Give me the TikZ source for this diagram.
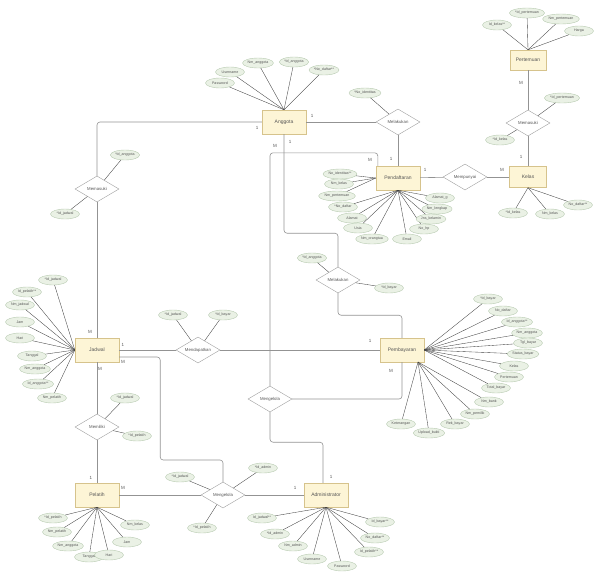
\documentclass[tikz,border=0pt]{standalone}
\usepackage{fontspec}
\setmainfont{Liberation Sans}
\usetikzlibrary{shapes.geometric}
\definecolor{entfill}{HTML}{FDF5D6}
\definecolor{entline}{HTML}{D6C38C}
\definecolor{attfill}{HTML}{EAF1E5}
\definecolor{attline}{HTML}{B7CAB0}
\definecolor{txt}{HTML}{555555}
\tikzset{
  ent/.style={draw=entline, fill=entfill, minimum width=44pt, minimum height=24pt, inner sep=1pt, font=\fontsize{5}{6}\selectfont, text=txt},
  rel/.style={diamond, draw=gray!75, fill=white, aspect=1.7, minimum width=44pt, minimum height=26pt, inner sep=0pt, font=\fontsize{4.3}{5}\selectfont, text=txt},
  attr/.style={ellipse, draw=attline, fill=attfill, minimum width=29pt, minimum height=10pt, inner sep=0.6pt, font=\fontsize{3.6}{4}\selectfont, text=txt},
  link/.style={draw=gray!85, line width=0.6pt, rounded corners=3pt},
  alink/.style={draw=gray!50!black, line width=0.35pt},
  card/.style={font=\fontsize{4.5}{5}\selectfont, text=txt},
}
\newcommand{\attrs}[3]{%
  \foreach \n/\x/\y/\lbl in {#3} {
    \node[attr] (#1\n) at (\x,\y) {\lbl};
    \draw[alink] (#1\n) -- (#2);
  }%
}

\begin{document}
\begin{tikzpicture}[x=1pt,y=-1pt]
  \useasboundingbox (0,0) rectangle (595,571);

  % entitas
  \node[ent] (anggota) at (284,122) {Anggota};
  \node[ent, minimum width=36pt, minimum height=20pt] (pertemuan) at (528,60) {Pertemuan};
  \node[ent, minimum width=37pt, minimum height=21pt] (kelas) at (528,177) {Kelas};
  \node[ent] (daftar) at (398,178) {Pendaftaran};
  \node[ent] (jadwal) at (97,350) {Jadwal};
  \node[ent] (bayar) at (402,350) {Pembayaran};
  \node[ent] (pelatih) at (97,495) {Pelatih};
  \node[ent] (admin) at (326,495) {Administrator};

  % relasi
  \node[rel] (melakukanA) at (398,122) {Melakukan};
  \node[rel] (mempunyai) at (465,177) {Mempunyai};
  \node[rel] (memasukiA) at (528,123) {Memasuki};
  \node[rel] (memasukiB) at (97,189) {Memasuki};
  \node[rel] (melakukanB) at (338,280) {Melakukan};
  \node[rel] (mendapatkan) at (198,350) {Mendapatkan};
  \node[rel] (mengelolaA) at (270,399) {Mengelola};
  \node[rel] (memiliki) at (97,427) {Memiliki};
  \node[rel] (mengelolaB) at (223,495) {Mengelola};

  \draw[link] (anggota.west) -| (memasukiB.north);
  \draw[link] (memasukiB) -- (jadwal);
  \draw[link] (anggota.east) -- (melakukanA);
  \draw[link] (melakukanA) -- (daftar);
  \draw[link] (anggota.south) -- ++(0,99) -| (melakukanB.north);
  \draw[link] ([xshift=2pt]daftar.north west) -- ++(0,-13) -| (mengelolaA.north);
  \draw[link] (mengelolaA.east) -| (bayar.south);
  \draw[link] (mengelolaA.south) -- ++(0,30) -| ([xshift=-3pt]admin.north);
  \draw[link] (melakukanB.south) -- ++(0,22) -| (bayar.north);
  \draw[link] (jadwal.east) -- (mendapatkan);
  \draw[link] (mendapatkan) -- (bayar);
  \draw[link] ([yshift=-7pt]jadwal.east) -| ++(41,103) -| (mengelolaB.north);
  \draw[link] (jadwal) -- (memiliki);
  \draw[link] (memiliki) -- (pelatih);
  \draw[link] (pelatih) -- (mengelolaB);
  \draw[link] (mengelolaB) -- (admin);
  \draw[link] (daftar) -- (mempunyai);
  \draw[link] (mempunyai) -- (kelas);
  \draw[link] (kelas) -- (memasukiA);
  \draw[link] (memasukiA) -- (pertemuan);

  % kardinalitas
  \foreach \x/\y/\c in {257/128/1, 312/116/1, 290/142/1, 275/146/M,
      370/160/M, 391/159/1, 425/170/1, 502/170/M, 521/157/1, 521/83/M,
      90/332/M, 123/345/1, 123/362/M, 100/369/M, 370/341/1, 391/371/M,
      91/478/1, 123/488/M, 295/488/1, 331/477/1}
    \node[card] at (\x,\y) {\c};

  % atribut
  \attrs{ag}{anggota.north}{1/220/83/Password, 2/230/72/Username, 3/258/63/Nm\_anggota,
    4/294/62/*Id\_anggota, 5/324/70/*No\_daftar**}
  \attrs{pt}{pertemuan.north}{1/497/25/Id\_kelas**, 2/527/13/*Id\_pertemuan,
    3/561/19/Nm\_pertemuan, 4/579/31/Harga}
  \attrs{ma}{memasukiA}{1/562/98/*Id\_pertemuan, 2/500/140/*Id\_kelas}
  \attrs{kl}{kelas.south}{1/513/213/*Id\_kelas, 2/550/214/Nm\_kelas, 3/578/205/No\_daftar**}
  \attrs{la}{melakukanA}{1/365/93/*No\_identitas}
  \attrs{dl}{daftar.west}{1/340/174/No\_identitas**, 2/339/184/Nm\_kelas, 3/337/196/Nm\_pertemuan}
  \attrs{ds}{daftar.south}{1/343/207/*No\_daftar, 2/352/218/Alamat, 3/358/228/Usia,
    4/372/239/Nm\_orangtua, 5/407/239/Email, 6/424/229/No\_hp, 7/431/219/Jns\_kelamin,
    8/437/209/Nm\_lengkap, 9/440/198/Alamat\_g}
  \attrs{mb}{memasukiB}{1/125/155/*Id\_anggota, 2/65/214/*Id\_jadwal}
  \attrs{jd}{jadwal.west}{1/53/280/*Id\_jadwal, 2/27/292/Id\_pelatih**, 3/20/305/Nm\_jadwal,
    4/20/322/Jam, 5/20/338/Hari, 6/32/356/Tanggal, 7/35/369/Nm\_anggota,
    8/38/384/Id\_anggota**, 9/52/398/Nm\_pelatih}
  \attrs{lb}{melakukanB}{1/312/258/*Id\_anggota, 2/389/288/*Id\_bayar}
  \attrs{md}{mendapatkan}{1/173/315/*Id\_jadwal, 2/223/315/*Id\_bayar}
  \attrs{br}{bayar.east}{1/488/299/*Id\_bayar, 2/503/311/No\_daftar, 3/517/322/Id\_anggota**,
    4/527/333/Nm\_anggota, 5/528/343/Tgl\_bayar, 6/523/354/Status\_bayar, 7/514/366/Kelas,
    8/509/377/Pertemuan, 9/496/388/Total\_bayar}
  \coordinate (bayarB) at (418,362);
  \attrs{bb}{bayarB}{1/489/402/Nm\_bank, 2/475/414/Nm\_pemilik, 3/455/424/Rek\_bayar,
    4/429/433/Upload\_bukti, 5/401/424/Keterangan}
  \attrs{mm}{memiliki}{1/125/398/*Id\_jadwal, 2/137/436/*Id\_pelatih}
  \attrs{pl}{pelatih.south}{1/53/518/*Id\_pelatih, 2/57/532/Nm\_pelatih, 3/68/546/Nm\_anggota,
    4/89/557/Tanggal, 5/109/555/Hari, 6/127/542/Jam, 7/135/525/Nm\_kelas}
  \attrs{mg}{mengelolaB}{1/180/477/*Id\_jadwal, 2/263/468/*Id\_admin, 3/202/528/*Id\_pelatih}
  \attrs{ad}{admin.south}{1/262/518/Id\_jadwal**, 2/275/534/*Id\_admin, 3/293/546/Nm\_admin,
    4/312/559/Username, 5/342/566/Password, 6/369/552/Id\_pelatih**, 7/375/538/No\_daftar**,
    8/380/522/Id\_bayar**}
\end{tikzpicture}
\end{document}
